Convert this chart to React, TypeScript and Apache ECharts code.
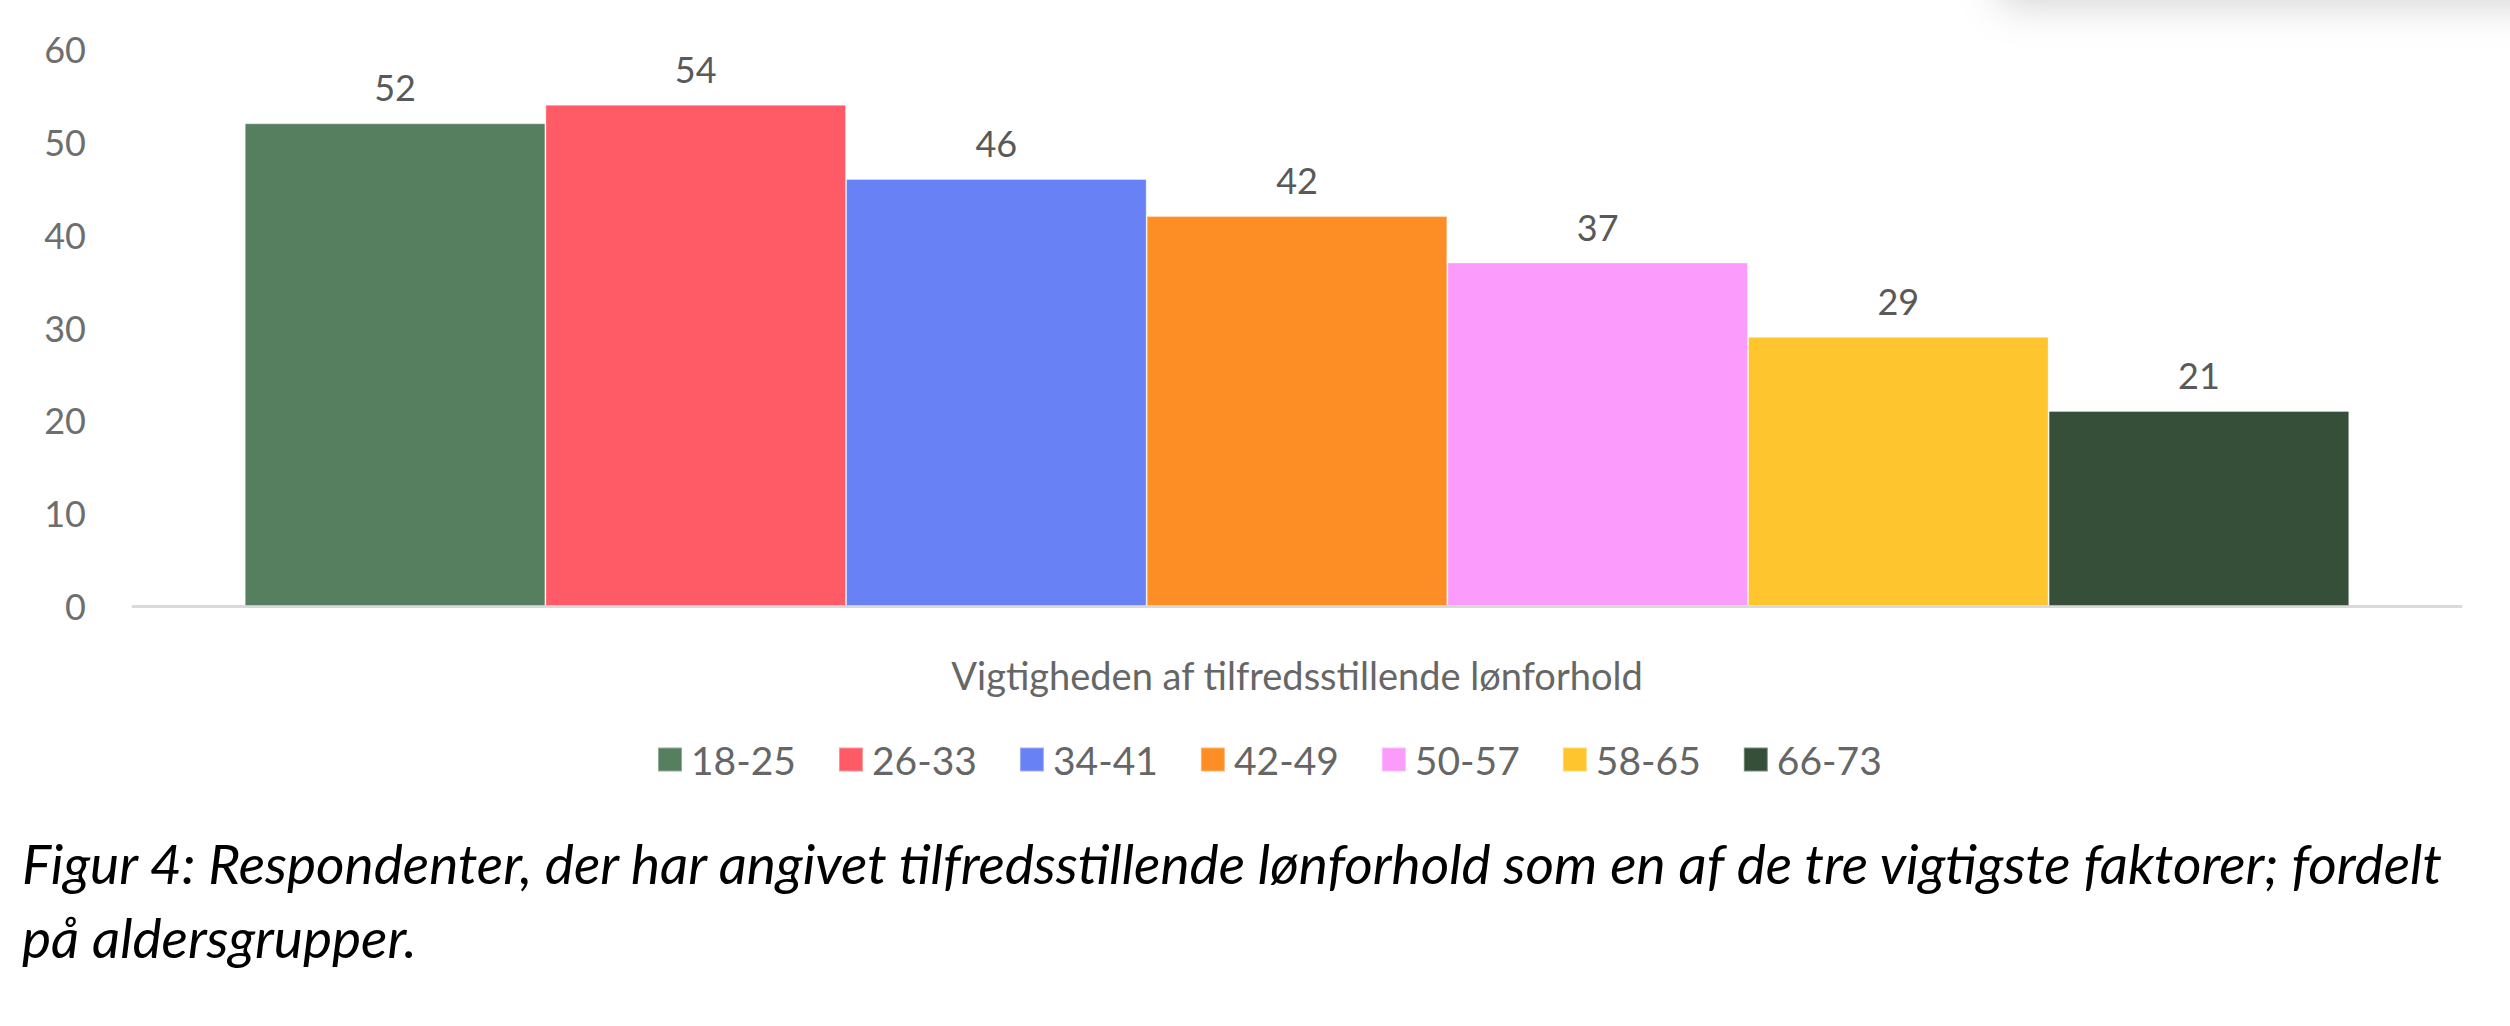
import React, { useEffect, useRef } from "react";
import * as echarts from "echarts";

const categories = ["Vigtigheden af tilfredsstillende lønforhold"];
const ageGroups = ["18-25", "26-33", "34-41", "42-49", "50-57", "58-65", "66-73"];
const values = [52, 54, 46, 42, 37, 29, 21];
const colors = ["#567F5F", "#FF5B67", "#6882F5", "#FD8E26", "#FB9BFC", "#FFC52F", "#354F39"];
const yMin = 0;
const yMax = 60;
const yStep = 10;
const captionLines = [
  "Figur 4: Respondenter, der har angivet tilfredsstillende lønforhold som en af de tre vigtigste faktorer; fordelt",
  "på aldersgrupper.",
];

const FONT = "Lato, 'Noto Sans', sans-serif";

export default function App() {
  const ref = useRef<HTMLDivElement>(null);
  useEffect(() => {
    if (!ref.current) return;
    const chart = echarts.init(ref.current, null, { renderer: "svg" });
    chart.setOption({
      animation: false,
      backgroundColor: "#ffffff",
      textStyle: { fontFamily: FONT },
      title: {
        text: captionLines.join("\n"),
        left: 17,
        top: 821,
        textStyle: {
          fontFamily: FONT,
          fontStyle: "italic",
          fontWeight: "normal",
          fontSize: 55,
          lineHeight: 74,
          color: "#000000",
        },
      },
      legend: {
        data: ageGroups,
        left: 652,
        top: 735,
        icon: "rect",
        itemWidth: 24,
        itemHeight: 24,
        itemGap: 42,
        textStyle: { fontFamily: FONT, fontSize: 39, color: "#666666", padding: [0, 0, 0, 4] },
      },
      grid: { left: 133, right: 49, top: 49, bottom: 420, containLabel: false },
      xAxis: {
        type: "category",
        data: categories,
        axisLine: { show: true, lineStyle: { color: "#D9D9D9", width: 3 } },
        axisTick: { show: false },
        axisLabel: {
          margin: 69,
          verticalAlign: "middle",
          fontFamily: FONT,
          fontSize: 38,
          color: "#666666",
        },
      },
      yAxis: {
        type: "value",
        min: yMin,
        max: yMax,
        interval: yStep,
        axisLine: { show: false },
        axisTick: { show: false },
        splitLine: { show: false },
        axisLabel: { margin: 47, fontFamily: FONT, fontSize: 36, color: "#6E6E6E" },
      },
      series: ageGroups.map((g, i) => ({
        name: g,
        type: "bar",
        data: [values[i]],
        barGap: "0%",
        barCategoryGap: "9.6%",
        itemStyle: { color: colors[i], borderColor: "rgba(255,255,255,0.35)", borderWidth: 1 },
        label: {
          show: true,
          position: "top",
          distance: 18,
          fontFamily: FONT,
          fontSize: 36,
          color: "#595959",
        },
      })),
      graphic: [
        {
          type: "rect",
          shape: { x: 2000, y: -80, width: 600, height: 80 },
          style: { fill: "#ffffff", shadowBlur: 40, shadowColor: "rgba(0,0,0,0.18)", shadowOffsetY: 4 },
          silent: true,
        },
      ],
    });
    return () => chart.dispose();
  }, []);
  return (
    <div
      ref={ref}
      style={{ position: "fixed", left: 0, top: 0, width: 2510, height: 1026 }}
    />
  );
}
